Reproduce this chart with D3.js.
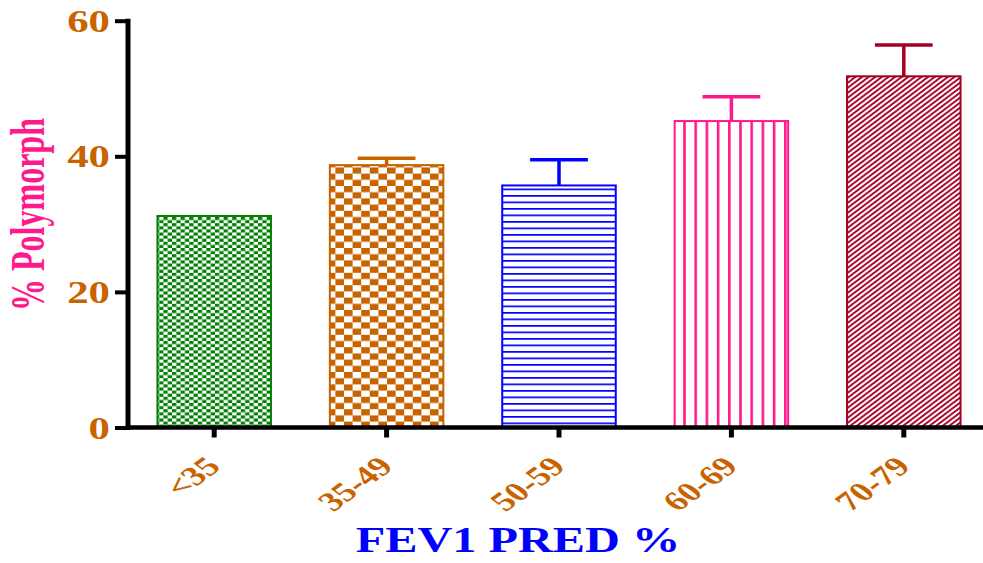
<!DOCTYPE html>
<html>
<head>
<meta charset="utf-8">
<script src="https://cdn.jsdelivr.net/npm/d3@7"></script>
<style>
  html, body { margin: 0; padding: 0; background: #fff; }
  svg { display: block; }
  text { font-family: "Liberation Serif", "Times New Roman", serif; font-weight: bold; }
</style>
</head>
<body>
<svg id="chart" width="983" height="563"></svg>
<script>
// FEV1 predicted % groups and polymorph percentages (mean, upper error)
const categories = ["<35", "35-49", "50-59", "60-69", "70-79"];
const means = [31.2, 38.7, 35.7, 45.2, 51.8];
const errors = [0, 1.0, 3.8, 3.6, 4.6];
const yTicks = [0, 20, 40, 60];
const barColors = ["#008000", "#c86400", "#0000ff", "#ff1a8c", "#a50021"];
const patternKinds = ["checkSmall", "checkLarge", "hlines", "vlines", "diag"];

const labelColor = "#c86400";
const stretch = 1.38; // horizontal widening of the lettering

const svg = d3.select("#chart");

const x = d3.scaleBand()
  .domain(categories)
  .range([128, 990])
  .paddingInner(0.33)
  .paddingOuter(0.165);

const y = d3.scaleLinear()
  .domain([0, 60])
  .range([427.5, 20.7]);

// ---- fill patterns ----
const defs = svg.append("defs");
function makePattern(kind, color, id) {
  if (kind === "checkSmall" || kind === "checkLarge") {
    const w = kind === "checkSmall" ? 4.3 : 8.6;
    const h = kind === "checkSmall" ? 3.1 : 6.2;
    const p = defs.append("pattern").attr("id", id)
      .attr("patternUnits", "userSpaceOnUse")
      .attr("width", 2 * w).attr("height", 2 * h);
    p.append("rect").attr("width", 2 * w).attr("height", 2 * h).attr("fill", "#fff");
    p.append("rect").attr("x", 0).attr("y", 0).attr("width", w).attr("height", h).attr("fill", color);
    p.append("rect").attr("x", w).attr("y", h).attr("width", w).attr("height", h).attr("fill", color);
  } else if (kind === "hlines") {
    const p = defs.append("pattern").attr("id", id)
      .attr("patternUnits", "userSpaceOnUse")
      .attr("width", 10).attr("height", 6.5);
    p.append("rect").attr("width", 10).attr("height", 6.5).attr("fill", "#fff");
    p.append("rect").attr("x", 0).attr("y", 0).attr("width", 10).attr("height", 1.7).attr("fill", color);
  } else if (kind === "vlines") {
    const p = defs.append("pattern").attr("id", id)
      .attr("patternUnits", "userSpaceOnUse")
      .attr("width", 11.2).attr("height", 10);
    p.append("rect").attr("width", 11.2).attr("height", 10).attr("fill", "#fff");
    p.append("rect").attr("x", 0).attr("y", 0).attr("width", 2.6).attr("height", 10).attr("fill", color);
  } else {
    const a = 6.6, b = 5.0;
    const p = defs.append("pattern").attr("id", id)
      .attr("patternUnits", "userSpaceOnUse")
      .attr("width", a).attr("height", b);
    p.append("rect").attr("width", a).attr("height", b).attr("fill", "#fff");
    p.append("path")
      .attr("d", `M0,${b} L${a},0 M${-a * 0.25},${b * 0.25} L${a * 0.25},${-b * 0.25} M${a * 0.75},${b * 1.25} L${a * 1.25},${b * 0.75}`)
      .attr("stroke", color).attr("stroke-width", 1.8).attr("fill", "none");
  }
}
categories.forEach((c, i) => makePattern(patternKinds[i], barColors[i], "pat" + i));

// ---- bars ----
const data = categories.map((c, i) => ({ cat: c, mean: means[i], err: errors[i], color: barColors[i], i }));

svg.append("g").selectAll("rect")
  .data(data)
  .join("rect")
  .attr("x", d => x(d.cat) + 1)
  .attr("y", d => y(d.mean))
  .attr("width", x.bandwidth() - 2)
  .attr("height", d => y(0) - y(d.mean))
  .attr("fill", d => `url(#pat${d.i})`)
  .attr("stroke", d => d.color)
  .attr("stroke-width", 2);

// ---- error bars (upper only) ----
const errG = svg.append("g");
data.filter(d => d.err > 0).forEach(d => {
  const cx = x(d.cat) + x.bandwidth() / 2;
  errG.append("line")
    .attr("x1", cx).attr("x2", cx)
    .attr("y1", y(d.mean)).attr("y2", y(d.mean + d.err))
    .attr("stroke", d.color).attr("stroke-width", 3.5);
  errG.append("line")
    .attr("x1", cx - x.bandwidth() / 4).attr("x2", cx + x.bandwidth() / 4)
    .attr("y1", y(d.mean + d.err)).attr("y2", y(d.mean + d.err))
    .attr("stroke", d.color).attr("stroke-width", 3.5);
});

// ---- axes ----
const yAxis = d3.axisLeft(y).tickValues(yTicks).tickSize(13).tickFormat("");
const yg = svg.append("g").attr("transform", "translate(128,0)").call(yAxis);
yg.select(".domain").remove();
yg.selectAll(".tick line").attr("stroke", "#000").attr("stroke-width", 4);
svg.append("line")
  .attr("x1", 128).attr("x2", 128)
  .attr("y1", y(60) - 2).attr("y2", y(0) + 2.5)
  .attr("stroke", "#000").attr("stroke-width", 5);

const xAxis = d3.axisBottom(x).tickSize(10).tickFormat("");
const xg = svg.append("g").attr("transform", `translate(0,${y(0)})`).call(xAxis);
xg.select(".domain").remove();
xg.selectAll(".tick line").attr("stroke", "#000").attr("stroke-width", 5);
svg.append("line")
  .attr("x1", 126).attr("x2", 990)
  .attr("y1", y(0)).attr("y2", y(0))
  .attr("stroke", "#000").attr("stroke-width", 4.5);

// y tick labels
svg.append("g").selectAll("text")
  .data(yTicks)
  .join("text")
  .attr("transform", d => `translate(110,${y(d) + 11}) scale(${stretch},1)`)
  .attr("text-anchor", "end")
  .attr("font-size", 31)
  .attr("fill", labelColor)
  .text(d => d);

// x tick labels, slanted
svg.append("g").selectAll("text")
  .data(categories)
  .join("text")
  .attr("transform", d => `translate(${x(d) + x.bandwidth() / 2 + 8},468) scale(${stretch},1) rotate(-45)`)
  .attr("text-anchor", "end")
  .attr("font-size", 27)
  .attr("fill", labelColor)
  .text(d => d);

// axis titles
svg.append("text")
  .attr("transform", `translate(518,552) scale(${stretch},1)`)
  .attr("text-anchor", "middle")
  .attr("font-size", 35)
  .attr("fill", "#0000ff")
  .text("FEV1 PRED %");

svg.append("text")
  .attr("transform", `translate(44,214.5) scale(1.5,1) rotate(-90)`)
  .attr("text-anchor", "middle")
  .attr("font-size", 32)
  .attr("fill", "#ff1a8c")
  .text("% Polymorph");
</script>
</body>
</html>
